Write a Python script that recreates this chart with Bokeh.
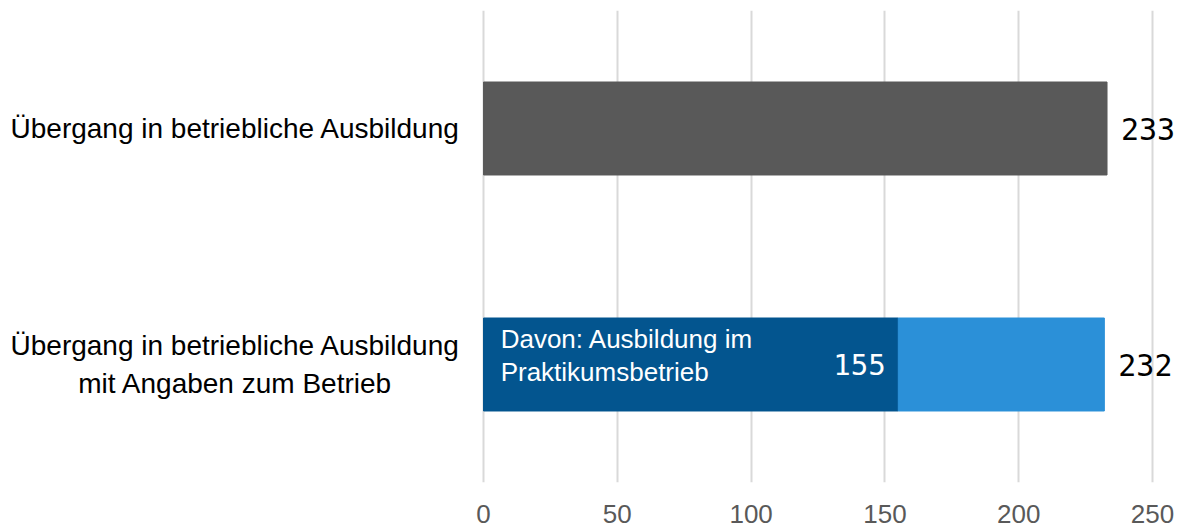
from bokeh.plotting import figure
from bokeh.models import FixedTicker, FactorRange, Range1d
from bokeh.core.properties import value
from bokeh.embed import file_html
from bokeh.resources import INLINE

# ---- data ----
categories = [
    "Übergang in betriebliche Ausbildung mit Angaben zum Betrieb",
    "Übergang in betriebliche Ausbildung",
]
category_labels = [
    "Übergang in betriebliche Ausbildung\nmit Angaben zum Betrieb",
    "Übergang in betriebliche Ausbildung",
]
totals = [232, 233]
davon_label = "Davon: Ausbildung im\nPraktikumsbetrieb"
davon_value = 155
tick_values = [0, 50, 100, 150, 200, 250]

GREY = "#595959"
DARK = "#03558F"
LIGHT = "#2B90D8"
FONT = value("Liberation Sans")
NUM_FONT = value("DejaVu Sans Mono")

p = figure(
    width=1186, height=529,
    y_range=FactorRange(*categories),
    x_range=Range1d(-180.5, 262.7),
    output_backend="svg", toolbar_location=None,
    min_border_left=0, min_border_right=0, min_border_top=10, min_border_bottom=47,
)
p.outline_line_color = None
p.background_fill_color = "white"

# bars
bh = 0.394
p.hbar(y=[categories[1]], left=0, right=[totals[1]], height=bh, color=GREY)
p.hbar(y=[categories[0]], left=0, right=[davon_value], height=bh, color=DARK)
p.hbar(y=[categories[0]], left=[davon_value], right=[totals[0]], height=bh, color=LIGHT)

# category labels
p.text(x=[-92.7, -92.7], y=categories, text=category_labels,
       text_align="center", text_baseline="middle", text_font=FONT,
       text_font_size="28px", text_color="black", text_line_height=1.2)

# value labels
p.text(x=[t + 5.2 for t in totals], y=categories, text=[str(t) for t in totals],
       text_align="left", text_baseline="middle", text_font=NUM_FONT,
       text_font_size="30px", text_color="black")

# inner labels
p.text(x=[6.4], y=[categories[0]], text=[davon_label], y_offset=-9,
       text_align="left", text_baseline="middle", text_font=FONT,
       text_font_size="26px", text_color="white", text_line_height=1.12)
p.text(x=[davon_value - 4.7], y=[categories[0]], text=[str(davon_value)],
       text_align="right", text_baseline="middle", text_font=NUM_FONT,
       text_font_size="29px", text_color="white")

# axes
p.yaxis.visible = False
p.ygrid.grid_line_color = None
p.xaxis.ticker = FixedTicker(ticks=tick_values)
p.xgrid.ticker = FixedTicker(ticks=tick_values)
p.xgrid.grid_line_color = "#D9D9D9"
p.xgrid.grid_line_width = 2
p.xaxis.axis_line_color = None
p.xaxis.major_tick_line_color = None
p.xaxis.minor_tick_line_color = None
p.xaxis.major_label_text_font = "Liberation Sans"
p.xaxis.major_label_text_font_size = "26px"
p.xaxis.major_label_text_color = GREY
p.xaxis.major_label_standoff = 16

open("out.html", "w").write(file_html(p, INLINE))
